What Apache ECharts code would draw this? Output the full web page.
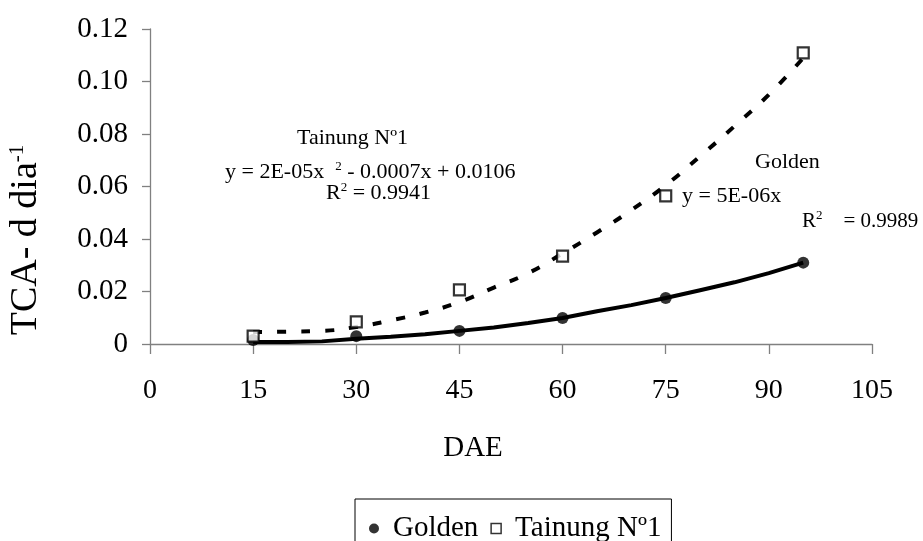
<!DOCTYPE html>
<html>
<head>
<meta charset="utf-8">
<script src="https://cdn.jsdelivr.net/npm/echarts@6/dist/echarts.min.js"></script>
<style>
  html, body { margin: 0; padding: 0; background: #fff; }
  #chart { width: 923px; height: 541px; }
</style>
</head>
<body>
<div id="chart"></div>
<script>
// measured points (DAE, TCA)
const daeObs = [15, 30, 45, 60, 75, 95];
const golden = [0.0015, 0.003, 0.005, 0.0099, 0.0175, 0.031];
const tainung = [0.003, 0.0084, 0.0206, 0.0335, 0.0564, 0.1109];

// trend lines
const daeTrend = [15, 20, 25, 30, 35, 40, 45, 50, 55, 60, 65, 70, 75, 80, 85, 90, 95];
const goldenTrend = [0.0008, 0.0008, 0.001, 0.002, 0.0028, 0.0037, 0.005, 0.0063, 0.008, 0.0099, 0.0125, 0.0148, 0.0175, 0.0205, 0.0235, 0.027, 0.031];
const tainungTrend = [0.0046, 0.0047, 0.005, 0.0065, 0.009, 0.012, 0.016, 0.0215, 0.027, 0.0345, 0.0425, 0.051, 0.0605, 0.0715, 0.083, 0.095, 0.109];

const FONT = '"Liberation Serif", "DejaVu Serif", serif';

const pairs = (xs, ys) => xs.map((x, i) => [x, ys[i]]);

const chart = echarts.init(document.getElementById('chart'));

const supRich = size => ({
  sup: { fontSize: size, fontFamily: FONT, fill: '#000', padding: [0, 0, Math.round(size * 0.8), 0] }
});

// annotation text, (x, y) = left edge / vertical middle
const note = (x, y, text, size) => ({
  type: 'text',
  x: x,
  y: y,
  style: {
    text: text,
    fontFamily: FONT,
    fontSize: size || 22,
    fill: '#000',
    verticalAlign: 'middle',
    rich: supRich(13)
  }
});

chart.setOption({
  animation: false,
  textStyle: { fontFamily: FONT },
  grid: { left: 150, right: 51, top: 29, bottom: 197 },
  xAxis: {
    type: 'value',
    min: 0,
    max: 105,
    interval: 15,
    axisLine: { lineStyle: { color: '#808080', width: 1.3 } },
    axisTick: { inside: false, length: 10, lineStyle: { color: '#808080', width: 1.3 } },
    axisLabel: { fontFamily: FONT, fontSize: 28, color: '#000', margin: 33 },
    splitLine: { show: false }
  },
  yAxis: {
    type: 'value',
    min: 0,
    max: 0.12,
    interval: 0.02,
    axisLine: { show: true, lineStyle: { color: '#808080', width: 1.3 } },
    axisTick: { show: true, inside: false, length: 8, lineStyle: { color: '#808080', width: 1.3 } },
    axisLabel: {
      fontFamily: FONT, fontSize: 29, color: '#000', margin: 22,
      formatter: v => (v === 0 ? '0' : v.toFixed(2))
    },
    splitLine: { show: false }
  },
  legend: {
    data: [
      { name: 'Golden', icon: 'circle' },
      { name: 'Tainung Nº1', icon: 'rect', itemStyle: { color: '#fff', borderColor: '#000', borderWidth: 1.5 } }
    ],
    left: 355,
    top: 499,
    orient: 'horizontal',
    itemWidth: 10,
    itemHeight: 10,
    itemGap: 12,
    padding: [15, 10, 10, 14],
    borderColor: '#000',
    borderWidth: 1,
    borderRadius: 0,
    textStyle: { fontFamily: FONT, fontSize: 29, color: '#000', padding: [0, 0, 0, 9] }
  },
  series: [
    {
      name: 'Golden trend',
      type: 'line',
      data: pairs(daeTrend, goldenTrend),
      showSymbol: false,
      smooth: false,
      lineStyle: { color: '#000', width: 4 },
      z: 2
    },
    {
      name: 'Tainung trend',
      type: 'line',
      data: pairs(daeTrend, tainungTrend),
      showSymbol: false,
      smooth: true,
      lineStyle: { color: '#000', width: 4, type: [9, 15] },
      z: 2
    },
    {
      name: 'Golden',
      type: 'scatter',
      data: pairs(daeObs, golden),
      symbol: 'circle',
      symbolSize: 12,
      itemStyle: { color: '#000' },
      z: 4
    },
    {
      name: 'Tainung Nº1',
      type: 'scatter',
      data: pairs(daeObs, tainung),
      symbol: 'rect',
      symbolSize: 11,
      itemStyle: { color: '#fff', borderColor: '#000', borderWidth: 2.2 },
      z: 5
    }
  ],
  graphic: [
    {
      type: 'text',
      x: 26,
      y: 240,
      rotation: Math.PI / 2,
      style: {
        text: 'TCA- d dia{sup|-1}',
        fontFamily: FONT,
        fontSize: 38,
        fill: '#000',
        align: 'center',
        verticalAlign: 'middle',
        rich: supRich(21)
      }
    },
    {
      type: 'text',
      x: 473,
      y: 448,
      style: {
        text: 'DAE',
        fontFamily: FONT,
        fontSize: 29,
        fill: '#000',
        align: 'center',
        verticalAlign: 'middle'
      }
    },
    note(297, 138, 'Tainung Nº1'),
    note(225, 172, 'y = 2E-05x  {sup|2} - 0.0007x + 0.0106'),
    note(326, 193, 'R{sup|2} = 0.9941'),
    note(755, 162, 'Golden'),
    note(682, 196, 'y = 5E-06x'),
    note(802, 221, 'R{sup|2}    = 0.9989', 21)
  ]
});
</script>
</body>
</html>
